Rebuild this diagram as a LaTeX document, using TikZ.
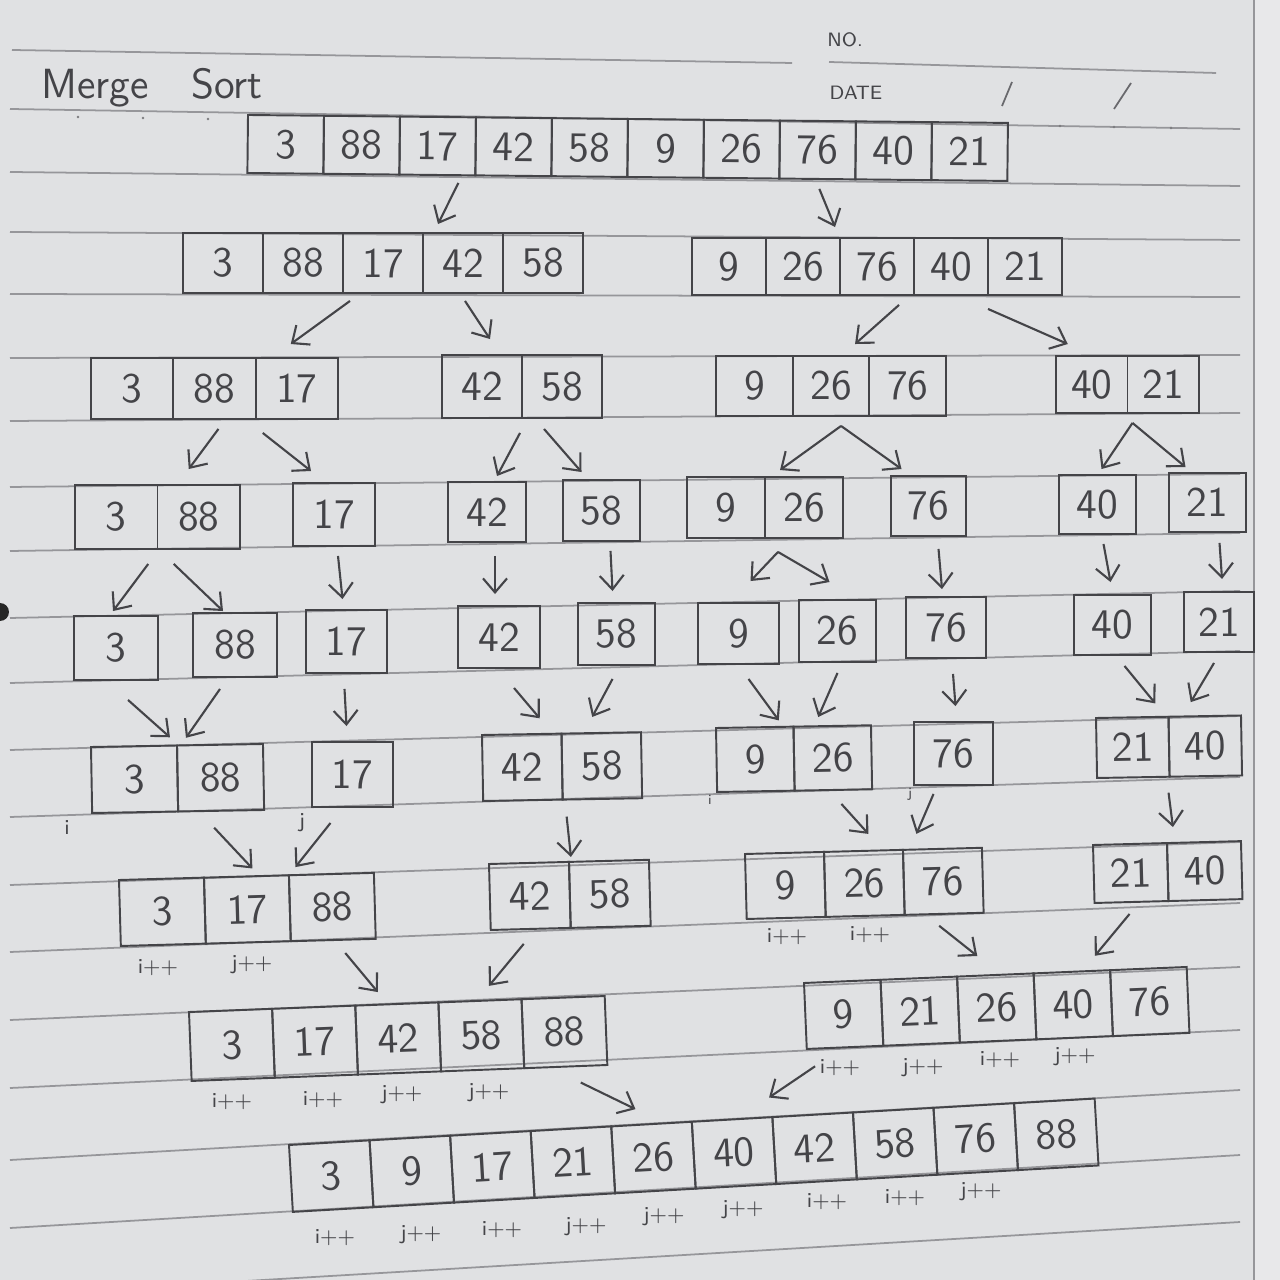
\documentclass[tikz,border=0pt]{standalone}
\usepackage{fontspec}
\usetikzlibrary{calc,arrows.meta}
\definecolor{paper}{RGB}{224,225,227}
\definecolor{margin}{RGB}{232,232,234}
\definecolor{pencil}{RGB}{68,68,72}
\definecolor{ruling}{RGB}{150,150,154}
\tikzset{
    cell/.style = {draw=pencil, rectangle, line width=.55pt, inner sep=0pt,
        text=pencil, font=\sffamily\fontsize{12}{14}\selectfont},
    arrow/.style = {draw=pencil, line width=.6pt,
        -{Straight Barb[length=1.4mm,width=2.4mm]}},
    idx/.style = {text=pencil, inner sep=0pt, font=\sffamily\fontsize{6}{7}\selectfont},
    rule/.style = {draw=ruling, line width=.5pt}
}
% one array: name, x, y (top left corner), cell width, cell height, tilt, values
\newcommand{\cellrow}[7]{%
    \begin{scope}[shift={(#2,#3)}, rotate=#6, transform shape]
        \foreach \v [count=\i] in {#7}
            \node[cell, minimum width=#4*0.01cm, minimum height=#5*0.01cm]
                (#1-\i) at ({(\i-0.5)*#4},{#5/2}) {\v};
    \end{scope}}

\begin{document}
\begin{tikzpicture}[x=0.01cm, y=-0.01cm]
    \useasboundingbox (0,0) rectangle (1280,1280);
    \clip (0,0) rectangle (1280,1280);
    % the notebook page
    \fill[paper] (0,0) rectangle (1254,1280);
    \fill[margin] (1254,0) rectangle (1280,1280);
    \draw[ruling, line width=.5pt] (1254,0) -- (1254,1280);
    \fill[black!85] (0,612) circle (9);
    \draw[rule] (12,50) -- (792,63);
    \draw[rule] (829,62) -- (1216,73);
    \foreach \yl/\yr in {109/129,172/186,232/240,294/297,358/355,421/413,
            487/474,551/533,618/591,683/651,750/716,817/777,885/842,
            952/903,1020/967,1088/1030,1160/1090,1228/1155,1295/1222}
        \draw[rule] (10,\yl) -- (1240,\yr);
    \foreach \x/\y in {78/117,143/118,208/119,1060/126,1114/127,1171/128}
        \fill[pencil!70] (\x,\y) circle (1.3);
    \node[font=\sffamily\fontsize{5.5}{6}\selectfont, text=pencil] (no) at (845,40) {NO.};
    \node[font=\sffamily\fontsize{5.5}{6}\selectfont, text=pencil] (date) at (856,93) {DATE};
    \draw[pencil!80, line width=.5pt] (1012,82) -- (1002,106);
    \draw[pencil!80, line width=.5pt] (1131,83) -- (1114,109);
    \node[font=\sffamily\fontsize{12}{14}\selectfont, text=pencil, anchor=west, inner sep=0pt] (title) at (41,88) {Merge\hspace{12pt}Sort};

    % the arrays, row by row
    \cellrow{R0}{248}{115}{76}{58}{-0.6}{3,88,17,42,58,9,26,76,40,21}
    \cellrow{R1a}{183}{233}{80}{60}{0}{3,88,17,42,58}
    \cellrow{R1b}{692}{238}{74}{57}{0}{9,26,76,40,21}
    \cellrow{R2a}{91}{358}{82.3}{61}{0}{3,88,17}
    \cellrow{R2b}{442}{355}{80}{63}{0}{42,58}
    \cellrow{R2c}{716}{356}{76.7}{60}{0}{9,26,76}
    \cellrow{R2d}{1056}{356}{71.5}{57}{0}{40,21}
    \cellrow{R3a}{75}{485}{82.5}{64}{0}{3,88}
    \cellrow{R3b}{293}{483}{82}{63}{0}{17}
    \cellrow{R3c}{448}{482}{78}{60}{0}{42}
    \cellrow{R3d}{563}{480}{77}{61}{0}{58}
    \cellrow{R3e}{687}{477}{78}{61}{0}{9,26}
    \cellrow{R3f}{891}{476}{75}{60}{0}{76}
    \cellrow{R3g}{1059}{475}{77}{59}{0}{40}
    \cellrow{R3h}{1169}{473}{77}{59}{0}{21}
    \cellrow{R4a}{74}{616}{84}{64}{0}{3}
    \cellrow{R4b}{193}{613}{84}{64}{0}{88}
    \cellrow{R4c}{306}{610}{81}{63}{0}{17}
    \cellrow{R4d}{458}{606}{82}{62}{0}{42}
    \cellrow{R4e}{578}{603}{77}{62}{0}{58}
    \cellrow{R4f}{698}{603}{81}{61}{0}{9}
    \cellrow{R4g}{799}{600}{77}{62}{0}{26}
    \cellrow{R4h}{906}{597}{80}{61}{0}{76}
    \cellrow{R4i}{1074}{595}{77}{60}{0}{40}
    \cellrow{R4j}{1184}{592}{70}{60}{0}{21}
    \cellrow{R5a}{91}{747}{86}{66}{1}{3,88}
    \cellrow{R5b}{312}{742}{81}{65}{0}{17}
    \cellrow{R5c}{482}{735}{79.5}{66}{1}{42,58}
    \cellrow{R5d}{716}{728}{77.5}{64}{1}{9,26}
    \cellrow{R5e}{914}{722}{79}{63}{0}{76}
    \cellrow{R5f}{1096}{718}{72.5}{60}{1}{21,40}
    \cellrow{R6a}{119}{880}{85}{66}{1.6}{3,17,88}
    \cellrow{R6b}{489}{864}{80}{66}{1.5}{42,58}
    \cellrow{R6c}{745}{854}{79}{65}{1.5}{9,26,76}
    \cellrow{R6d}{1093}{845}{74}{58}{1.5}{21,40}
    \cellrow{R7a}{189}{1012}{83.2}{69}{2.2}{3,17,42,58,88}
    \cellrow{R7b}{804}{983}{76.6}{66}{2.4}{9,21,26,40,76}
    \cellrow{R8}{289}{1145}{80.7}{67}{3.3}{3,9,17,21,26,40,42,58,76,88}

    % splitting
    \draw[arrow] ($(R0-3.south)+(21,7)$) -- ($(R1a-4.north)+(-25,-8)$);
    \draw[arrow] ($(R0-8.south)+(2,9)$) -- ($(R1b-2.north)+(32,-10)$);
    \draw[arrow] ($(R1a-3.south)+(-33,7)$) -- ($(R2a-3.north)+(-6,-13)$);
    \draw[arrow] ($(R1a-4.south)+(2,7)$) -- ($(R2b-1.north)+(8,-15)$);
    \draw[arrow] ($(R1b-3.south)+(22,9)$) -- ($(R2c-2.north)+(24,-11)$);
    \draw[arrow] ($(R1b-4.south)+(37,13)$) -- ($(R2d-1.north)+(-24,-11)$);
    \draw[arrow] ($(R2a-2.south)+(4,9)$) -- ($(R3a-2.north)+(-10,-15)$);
    \draw[arrow] ($(R2a-3.south)+(-34,13)$) -- ($(R3b-1.north)+(-23,-11)$);
    \draw[arrow] ($(R2b-1.south)+(38,14)$) -- ($(R3c-1.north)+(10,-5)$);
    \draw[arrow] ($(R2b-2.south)+(-18,10)$) -- ($(R3d-1.north)+(-20,-7)$);
    \coordinate (topE) at ($(R2c-2.south)+(10,9)$);
    \draw[arrow] (topE) -- ($(R3e-2.north)+(-24,-6)$);
    \draw[arrow] (topE) -- ($(R3f-1.north)+(-27,-6)$);
    \coordinate (topF) at ($(R2d-1.south east)+(4,9)$);
    \draw[arrow] (topF) -- ($(R3g-1.north)+(4,-5)$);
    \draw[arrow] (topF) -- ($(R3h-1.north)+(-22,-5)$);
    \draw[arrow] ($(R3a-1.south)+(32,14)$) -- ($(R4a-1.north)+(-3,-4)$);
    \draw[arrow] ($(R3a-2.south)+(-25,14)$) -- ($(R4b-1.north)+(-12,-1)$);
    \draw[arrow] ($(R3b-1.south)+(4,9)$) -- ($(R4c-1.north)+(-4,-10)$);
    \draw[arrow] ($(R3c-1.south)+(8,13)$) -- ($(R4d-1.north)+(-4,-11)$);
    \draw[arrow] ($(R3d-1.south)+(9,9)$) -- ($(R4e-1.north)+(-4,-11)$);
    \coordinate (topM) at ($(R3e-2.south)+(-26,13)$);
    \draw[arrow] (topM) -- ($(R4f-1.north)+(12,-21)$);
    \draw[arrow] (topM) -- ($(R4g-1.north)+(-8,-17)$);
    \draw[arrow] ($(R3f-1.south)+(10,12)$) -- ($(R4h-1.north)+(-4,-7)$);
    \draw[arrow] ($(R3g-1.south)+(6,9)$) -- ($(R4i-1.north)+(-2,-12)$);
    \draw[arrow] ($(R3h-1.south)+(12,10)$) -- ($(R4j-1.north)+(3,-12)$);
    % merging
    \draw[arrow] ($(R4a-1.south)+(12,19)$) -- ($(R5a-1.north)+(36,-8)$);
    \draw[arrow] ($(R4b-1.south)+(-15,11)$) -- ($(R5a-2.north)+(-34,-6)$);
    \draw[arrow] ($(R4c-1.south)+(-2,15)$) -- ($(R5b-1.north)+(-6,-15)$);
    \draw[arrow] ($(R4d-1.south)+(15,19)$) -- ($(R5c-1.north)+(18,-15)$);
    \draw[arrow] ($(R4e-1.south)+(-4,13)$) -- ($(R5c-2.north)+(-9,-15)$);
    \draw[arrow] ($(R4f-1.south)+(10,14)$) -- ($(R5d-1.north)+(24,-6)$);
    \draw[arrow] ($(R4g-1.south)+(0,10)$) -- ($(R5d-2.north)+(-14,-8)$);
    \draw[arrow] ($(R4h-1.south)+(7,15)$) -- ($(R5e-1.north)+(2,-15)$);
    \draw[arrow] ($(R4i-1.south)+(12,10)$) -- ($(R5f-1.north)+(23,-13)$);
    \draw[arrow] ($(R4j-1.south)+(-5,10)$) -- ($(R5f-2.north)+(-14,-13)$);
    \draw[arrow] ($(R5a-2.south)+(-7,16)$) -- ($(R6a-2.north)+(6,-7)$);
    \draw[arrow] ($(R5b-1.south)+(-22,15)$) -- ($(R6a-3.north)+(-36,-6)$);
    \draw[arrow] ($(R5c-1.south east)+(3,16)$) -- ($(R6b-1.north east)+(1,-4)$);
    \draw[arrow] ($(R5d-2.south)+(8,13)$) -- ($(R6c-2.north)+(5,-16)$);
    \draw[arrow] ($(R5e-1.south)+(-20,8)$) -- ($(R6c-3.north)+(-26,-14)$);
    \draw[arrow] ($(R5f-1.south east)+(-2,15)$) -- ($(R6d-1.north east)+(5,-15)$);
    \draw[arrow] ($(R6a-3.south)+(12,12)$) -- ($(R7a-3.north)+(-19,-11)$);
    \draw[arrow] ($(R6b-1.south)+(-7,14)$) -- ($(R7a-4.north)+(9,-14)$);
    \draw[arrow] ($(R6c-3.south)+(-5,11)$) -- ($(R7b-3.north)+(-18,-18)$);
    \draw[arrow] ($(R6d-1.south)+(-2,11)$) -- ($(R7b-4.north)+(23,-15)$);
    \draw[arrow] ($(R7a-5.south)+(15,15)$) -- ($(R8-5.north)+(-16,-14)$);
    \draw[arrow] ($(R7b-1.south)+(-30,18)$) -- ($(R8-6.north)+(37,-21)$);

    % index notes
    \foreach \txt/\x/\y [count=\k] in {i/67/828, j/302/823,
            i++/158/968, j++/252/965, i++/787/937, i++/870/935,
            i++/232/1102, i++/323/1100, j++/402/1095, j++/489/1093,
            i++/840/1068, j++/923/1068, i++/1000/1060, j++/1075/1057,
            i++/335/1238, j++/421/1235, i++/502/1230, j++/586/1227, j++/664/1217,
            j++/743/1210, i++/827/1202, i++/905/1198, j++/981/1192}
        \node[idx] (lbl\k) at (\x,\y) {\txt};
    \node[idx, font=\sffamily\fontsize{4}{4}\selectfont] (tinyi) at (710,800) {i};
    \node[idx, font=\sffamily\fontsize{4}{4}\selectfont] (tinyj) at (910,794) {j};
\end{tikzpicture}
\end{document}
